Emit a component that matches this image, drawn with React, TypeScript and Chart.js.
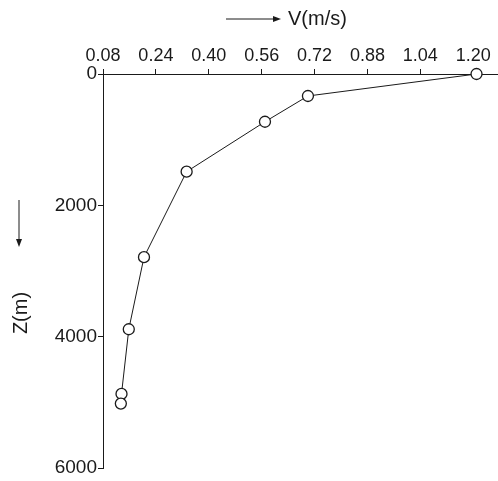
import React, { useEffect, useRef } from "react";
import { Chart, registerables } from "chart.js";

Chart.register(...registerables);

const velocity = [1.21, 0.70, 0.57, 0.333, 0.204, 0.158, 0.136, 0.134];
const depth = [0, 335, 727, 1487, 2789, 3887, 4872, 5019];
const xTicks = [0.08, 0.24, 0.4, 0.56, 0.72, 0.88, 1.04, 1.2];
const yTicks = [0, 2000, 4000, 6000];
const xTitle = "V(m/s)";
const yTitle = "Z(m)";

const FONT = "'Liberation Sans Narrow', 'Liberation Sans', Arial, sans-serif";
const INK = "#1a1a1a";

const titlePlugin = {
  id: "axisTitles",
  afterDraw(chart: any) {
    const ctx = chart.ctx;
    ctx.save();
    ctx.strokeStyle = INK;
    ctx.fillStyle = INK;
    ctx.lineWidth = 1;
    // top arrow
    ctx.beginPath();
    ctx.moveTo(226, 19);
    ctx.lineTo(278, 19);
    ctx.stroke();
    ctx.beginPath();
    ctx.moveTo(281, 19);
    ctx.lineTo(273, 16);
    ctx.lineTo(273, 22);
    ctx.closePath();
    ctx.fill();
    ctx.font = "20px " + FONT;
    ctx.textBaseline = "middle";
    ctx.textAlign = "left";
    ctx.fillText(xTitle, 288, 19);
    // left arrow
    ctx.beginPath();
    ctx.moveTo(19, 200);
    ctx.lineTo(19, 244);
    ctx.stroke();
    ctx.beginPath();
    ctx.moveTo(19, 247);
    ctx.lineTo(16, 239);
    ctx.lineTo(22, 239);
    ctx.closePath();
    ctx.fill();
    ctx.translate(21, 313);
    ctx.rotate(-Math.PI / 2);
    ctx.textAlign = "center";
    ctx.fillText(yTitle, 0, 0);
    ctx.restore();
  },
};

export default function App() {
  const ref = useRef<HTMLCanvasElement | null>(null);
  useEffect(() => {
    if (!ref.current) return;
    const chart = new Chart(ref.current, {
      type: "line",
      data: {
        datasets: [
          {
            data: velocity.map((v, i) => ({ x: v, y: depth[i] })),
            borderColor: INK,
            borderWidth: 1,
            pointRadius: 5.5,
            pointBackgroundColor: "#ffffff",
            pointBorderColor: INK,
            pointBorderWidth: 1.3,
            tension: 0,
            clip: false as any,
          },
        ],
      },
      options: {
        animation: false,
        responsive: false,
        maintainAspectRatio: false,
        layout: { padding: { left: 0, right: 0, top: 0, bottom: 13 } },
        plugins: { legend: { display: false }, tooltip: { enabled: false } },
        scales: {
          x: {
            type: "linear",
            position: "top",
            min: 0.08,
            max: 1.275,
            afterBuildTicks: (s: any) => {
              s.ticks = xTicks.map((v) => ({ value: v }));
            },
            afterFit: (s: any) => {
              s.height = 74;
              s.paddingLeft = 0;
              s.paddingRight = 0;
            },
            ticks: {
              color: INK,
              font: { family: FONT, size: 18 },
              padding: 2,
              maxRotation: 0,
              autoSkip: false,
              callback: (v: any) => Number(v).toFixed(2),
            },
            grid: {
              display: true,
              drawOnChartArea: false,
              drawTicks: true,
              tickLength: 5,
              color: INK,
            },
            border: { display: true, color: INK, width: 1 },
          },
          y: {
            type: "linear",
            reverse: true,
            min: 0,
            max: 6000,
            afterBuildTicks: (s: any) => {
              s.ticks = yTicks.map((v) => ({ value: v }));
            },
            afterFit: (s: any) => {
              s.width = 103;
              s.paddingTop = 0;
              s.paddingBottom = 0;
            },
            ticks: {
              color: INK,
              font: { family: FONT, size: 19 },
              padding: 1,
              autoSkip: false,
              callback: (v: any) => String(v),
            },
            grid: {
              display: true,
              drawOnChartArea: false,
              drawTicks: true,
              tickLength: 5,
              color: INK,
            },
            border: { display: true, color: INK, width: 1 },
          },
        },
      },
      plugins: [titlePlugin],
    });
    const ctrl: any = chart.getDatasetMeta(0).controller;
    if (ctrl) {
      ctrl.getMaxOverflow = () => 0;
      chart.update();
    }
    return () => chart.destroy();
  }, []);
  return (
    <div style={{ position: "absolute", left: 0, top: 0, width: 498, height: 481, background: "#fff" }}>
      <canvas ref={ref} width={498} height={481} style={{ width: 498, height: 481, display: "block" }} />
    </div>
  );
}
